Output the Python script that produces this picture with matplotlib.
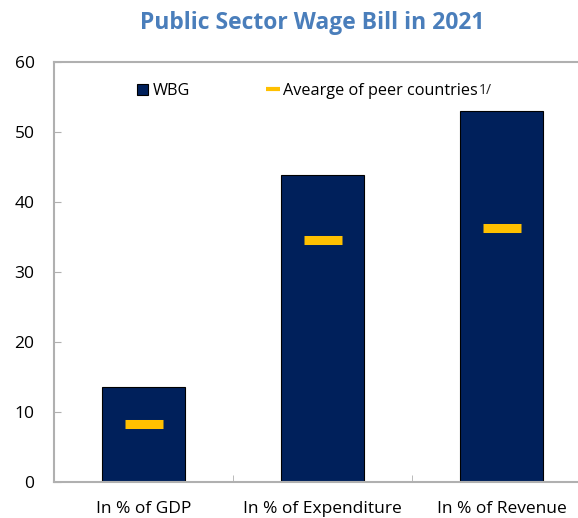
import numpy as np
import matplotlib.pyplot as plt
from matplotlib.lines import Line2D
from matplotlib.patches import Patch

plt.rcParams['font.family'] = ['Open Sans', 'DejaVu Sans']

categories = ['In % of GDP', 'In % of Expenditure', 'In % of Revenue']
wbg = [13.6, 43.9, 53.0]
peers = [8.3, 34.6, 36.3]

navy = '#00205b'
gold = '#ffc000'
grey = '#b0b0b0'

fig = plt.figure(figsize=(5.78, 5.18), dpi=100)
ax = fig.add_axes([54/578, 36/518, 537/578, 420/518])

x = np.arange(len(categories))
ax.bar(x, wbg, width=0.465, color=navy, edgecolor='black', linewidth=0.8, zorder=2)
ax.plot(x, peers, linestyle='none', marker='_', markersize=28, markeredgewidth=6.5,
        color=gold, zorder=3)

ax.set_xlim(-0.5, 2.5)
ax.set_ylim(0, 60)
ax.set_yticks(range(0, 61, 10))
ax.tick_params(axis='y', direction='in', length=5, color=grey, labelsize=12.5, pad=14)
ax.set_xticks(x)
ax.set_xticklabels(categories, fontsize=12.5)
ax.tick_params(axis='x', length=0, pad=14)
ax.set_xticks([0.5, 1.5], minor=True)
ax.tick_params(axis='x', which='minor', direction='in', length=5, color=grey)

for s in ['left', 'top', 'bottom']:
    ax.spines[s].set_color(grey)
    ax.spines[s].set_linewidth(1.5)
ax.spines['right'].set_visible(False)

handles = [Patch(facecolor=navy, edgecolor='black', linewidth=0.8),
           Line2D([], [], linestyle='none', marker='_', markersize=10,
                  markeredgewidth=3, color=gold)]
ax.legend(handles, ['WBG', 'Avearge of peer countries'], ncol=2, frameon=False,
          fontsize=11.7, loc='upper left', bbox_to_anchor=(0.127, 0.985),
          handlelength=0.7, handleheight=0.7, handletextpad=0.3, columnspacing=4.7)
fig.text(479/578, 1 - 90/518, '1/', fontsize=10, va='center', color='#222222')

fig.text(312/578, 1 - 23/518, 'Public Sector Wage Bill in 2021', ha='center',
         va='center', fontsize=16.5, fontweight='bold', color='#4a7ebb')

fig.savefig('out.png', dpi=100)
